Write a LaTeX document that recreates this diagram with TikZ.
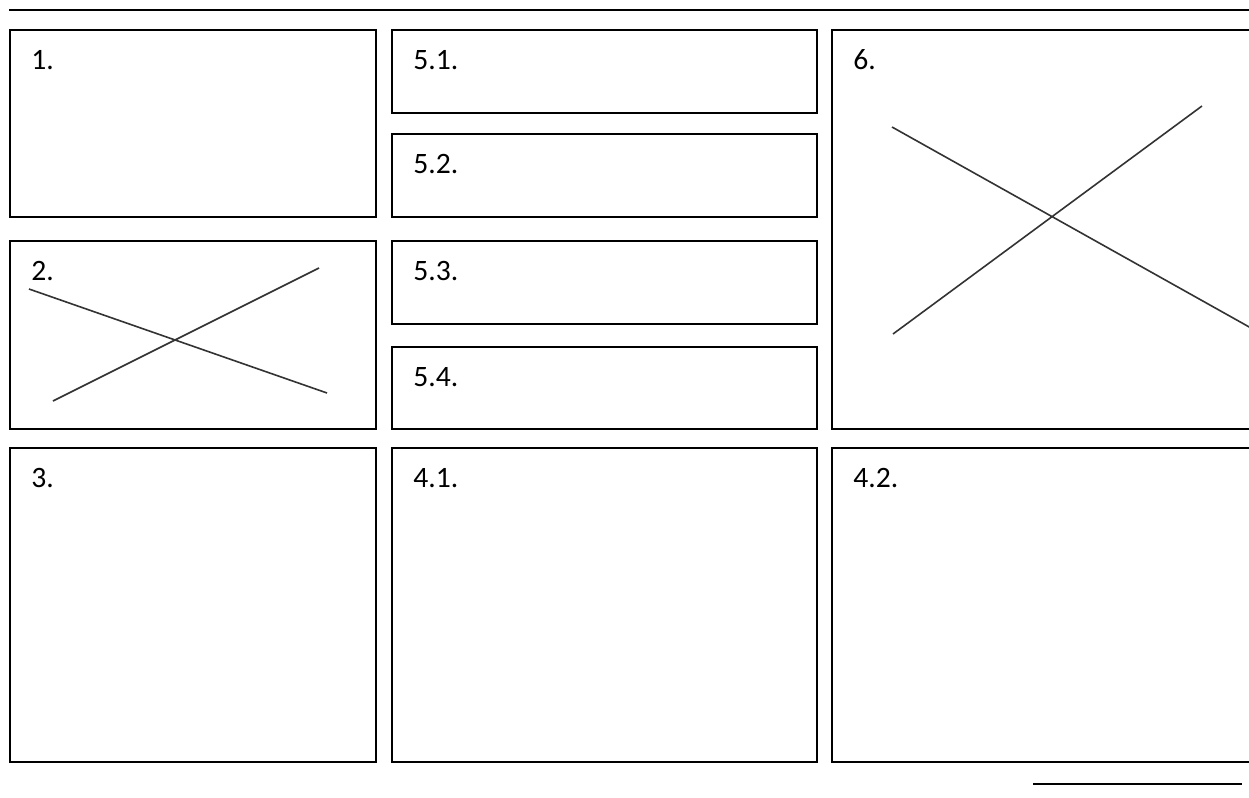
\documentclass[tikz,border=0pt]{standalone}
\usepackage{fontspec}
\setmainfont{Carlito}
\usetikzlibrary{positioning}

\begin{document}
\begin{tikzpicture}[x=0.5pt,y=-0.5pt,
		panel/.style={draw,line width=1pt},
		cross/.style={black!80,line width=0.8pt},
		lbl/.style={anchor=base west,inner sep=0pt,font=\fontsize{14.8}{17}\selectfont}]
			\clip (0,0) rectangle (1249,798);
			\draw[panel] (9,9.5) -- (1262,9.5);
			\foreach \nm/\t/\xa/\ya/\xb/\yb in {p1/1./10/30/376/217, p2/2./10/241/376/429, p3/3./10/448/376/762,
				pa/5.1./392/30/817/113, pb/5.2./392/134/817/217, pc/5.3./392/241/817/324, pd/5.4./392/347/817/429,
				pe/4.1./392/448/817/762, p6/6./832/30/1262/429, pf/4.2./832/448/1262/762}{
				\draw[panel] (\xa,\ya) rectangle (\xb,\yb);
				\node[lbl] (\nm) at (\xa+21,\ya+39) {\t};
			}
			\draw[cross] (29,289) -- (327,393) (53,401) -- (319,268);
			\draw[cross] (892,127) -- (1251,328) (893,334) -- (1202,106);
			\draw[panel] (1033,784) -- (1242,784);
		\end{tikzpicture}
\end{document}
